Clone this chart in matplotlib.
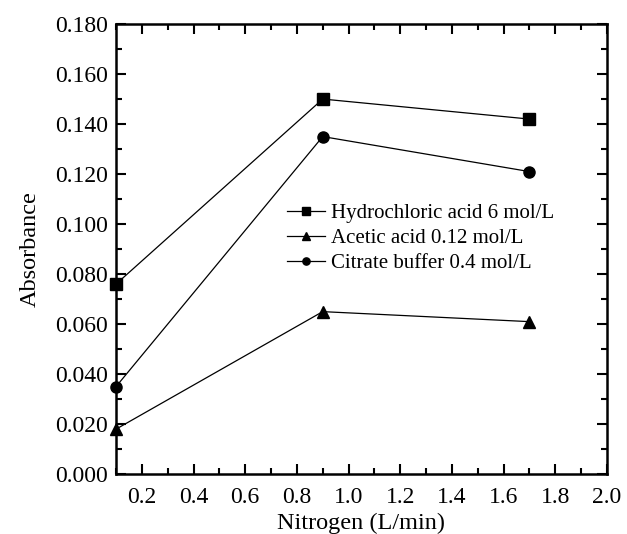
import matplotlib.pyplot as plt
from matplotlib.ticker import MultipleLocator, FormatStrFormatter

# nitrogen flow rate (L/min) and measured absorbance for each acid
nitrogen = [0.1, 0.9, 1.7]
hcl = [0.076, 0.150, 0.142]
acetic = [0.018, 0.065, 0.061]
citrate = [0.035, 0.135, 0.121]

plt.rcParams['font.family'] = ['Liberation Serif', 'DejaVu Serif']

fig = plt.figure(figsize=(6.27, 5.34), dpi=100)
ax = fig.add_axes([0.185, 0.112, 0.783, 0.843])

series = [
    (hcl, 's', 8, 'Hydrochloric acid 6 mol/L'),
    (acetic, '^', 8, 'Acetic acid 0.12 mol/L'),
    (citrate, 'o', 8, 'Citrate buffer 0.4 mol/L'),
]
for vals, mk, ms, lab in series:
    ax.plot(nitrogen, vals, '-', marker=mk, color='black', lw=0.9, ms=ms,
            clip_on=False, label=lab)

ax.set_xlim(0.1, 2.0)
ax.set_ylim(0, 0.18)
ax.xaxis.set_major_locator(MultipleLocator(0.2))
ax.xaxis.set_minor_locator(MultipleLocator(0.1))
ax.yaxis.set_major_locator(MultipleLocator(0.02))
ax.yaxis.set_minor_locator(MultipleLocator(0.01))
ax.xaxis.set_major_formatter(FormatStrFormatter('%.1f'))
ax.yaxis.set_major_formatter(FormatStrFormatter('%.3f'))

ax.tick_params(which='both', direction='in', top=True, right=True,
               labelsize=17, width=1.5)
ax.tick_params(which='major', length=7, pad=6)
ax.tick_params(which='minor', length=4)
ax.tick_params(axis='x', which='major', pad=9)
for s in ax.spines.values():
    s.set_linewidth(1.8)

ax.set_xlabel('Nitrogen (L/min)', fontsize=17.5, labelpad=4)
ax.set_ylabel('Absorbance', fontsize=17.5, labelpad=10)

leg = ax.legend(loc='center left', bbox_to_anchor=(0.332, 0.524), frameon=False,
                fontsize=15, handlelength=1.8, handletextpad=0.3,
                labelspacing=0.25, borderaxespad=0, markerscale=0.65)

fig.savefig('out.png', dpi=100)
